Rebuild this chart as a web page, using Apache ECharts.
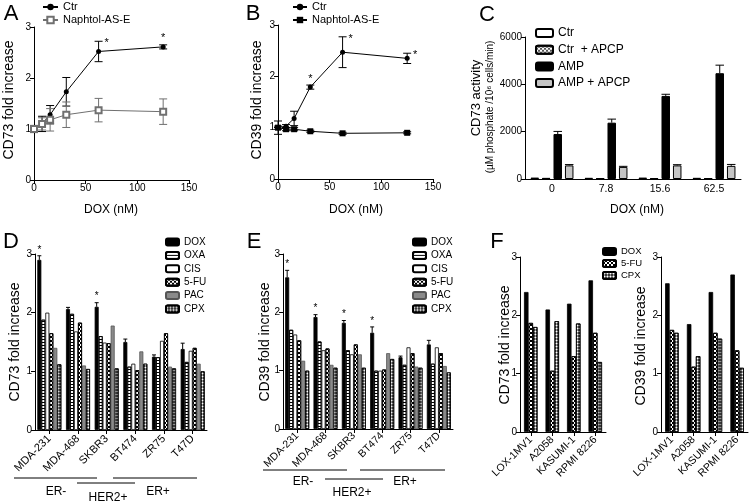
<!DOCTYPE html>
<html><head><meta charset="utf-8">
<script src="https://cdn.jsdelivr.net/npm/echarts@6/dist/echarts.min.js"></script>
<style>html,body{margin:0;padding:0;background:#fff}#c{width:749px;height:502px}</style>
</head><body><div id="c"></div>
<script>
// ---------- Panel A : CD73 vs DOX ----------
const doseA = [0, 7.8, 15.6, 31.25, 62.5, 125];
const aCtr = [1.0, 1.1, 1.28, 1.73, 2.52, 2.61];
const aCtrErr = [0.07, 0.15, 0.18, 0.28, 0.2, 0.04];
const aNap = [1.0, 1.1, 1.18, 1.28, 1.37, 1.34];
const aNapErr = [0.05, 0.12, 0.22, 0.25, 0.23, 0.25];
const aStars = ['', '', '', '', 'right', 'top'];
// ---------- Panel B : CD39 vs DOX ----------
const bCtr = [1.0, 1.03, 1.18, 1.79, 2.47, 2.35];
const bCtrErr = [0.13, 0.03, 0.14, 0.04, 0.3, 0.1];
const bNap = [1.0, 0.97, 0.97, 0.93, 0.89, 0.9];
const bNapErr = [0.03, 0.03, 0.03, 0.02, 0.02, 0.02];
const bStars = ['', '', '', 'top', 'right', 'right'];
// ---------- Panel C : CD73 activity ----------
const cCats = ['0', '7.8', '15.6', '62.5'];
const cCtr = [60, 50, 60, 50];
const cCtrApcp = [45, 35, 40, 35];
const cAmp = [1900, 2380, 3510, 4470];
const cAmpErr = [110, 150, 70, 340];
const cAmpApcp = [575, 510, 575, 555];
const cAmpApcpErr = [35, 25, 30, 60];
// ---------- Panels D / E : cell lines ----------
const deCats = ['MDA-231', 'MDA-468', 'SKBR3', 'BT474', 'ZR75', 'T47D'];
const drugs = ['DOX', 'OXA', 'CIS', '5-FU', 'PAC', 'CPX'];
const dDOX = [2.9, 2.06, 2.1, 1.5, 1.25, 1.38];
const dOXA = [1.88, 1.98, 1.6, 1.08, 1.24, 1.16];
const dCIS = [2.0, 1.68, 1.49, 1.13, 1.52, 1.35];
const d5FU = [1.65, 1.83, 1.48, 1.02, 1.65, 1.4];
const dPAC = [1.4, 1.1, 1.78, 1.34, 1.08, 1.13];
const dCPX = [1.12, 1.04, 1.05, 1.13, 1.05, 1.0];
const dDOXErr = [0.07, 0.03, 0.07, 0.05, 0.03, 0.1];
const dStars = [1, 0, 1, 0, 0, 0];
const eDOX = [2.6, 1.92, 1.82, 1.65, 1.23, 1.45];
const eOXA = [1.7, 1.5, 1.35, 1.0, 1.1, 1.12];
const eCIS = [1.62, 1.35, 1.28, 1.0, 1.4, 1.4];
const e5FU = [1.52, 1.38, 1.45, 1.02, 1.3, 1.3];
const ePAC = [1.17, 1.1, 1.28, 1.3, 1.07, 1.08];
const eCPX = [1.0, 1.05, 1.05, 1.2, 1.05, 0.97];
const eDOXErr = [0.12, 0.04, 0.04, 0.1, 0.02, 0.07];
const eStars = [1, 1, 1, 1, 0, 0];
// ---------- Panel F : other tumour lines ----------
const fCats = ['LOX-1MV1', 'A2058', 'KASUMI-1', 'RPMI 8226'];
const fDrugs = ['DOX', '5-FU', 'CPX'];
const f73DOX = [2.4, 2.1, 2.2, 2.6];
const f73FU = [1.87, 1.05, 1.3, 1.7];
const f73CPX = [1.8, 1.9, 1.86, 1.2];
const f39DOX = [2.55, 1.85, 2.4, 2.7];
const f39FU = [1.75, 1.12, 1.7, 1.4];
const f39CPX = [1.7, 1.3, 1.6, 1.1];

const FONT = "'Liberation Sans', Arial, Helvetica, sans-serif";
const chart = echarts.init(document.getElementById('c'));

const DEC_STRIPE = {symbol: 'rect', symbolSize: 1, dashArrayX: [1, 0], dashArrayY: [1, 2], color: '#000', rotation: 0};
const DEC_CHECK = {symbol: 'rect', symbolSize: 1, dashArrayX: [[2, 2], [0, 2, 2, 0]], dashArrayY: [2, 0], color: '#000', rotation: 0};
const DEC_CROSS = {symbol: 'diamond', symbolSize: 0.8, dashArrayX: [3, 0], dashArrayY: [3, 0], color: '#fff', rotation: 0};
const DEC_CHECK_G = {symbol: 'rect', symbolSize: 1, dashArrayX: [[2, 2], [0, 2, 2, 0]], dashArrayY: [2, 0], color: '#555', rotation: 0};

const drugStyle = {
  'DOX': {color: '#000', borderColor: '#000', borderWidth: 0.8},
  'OXA': {color: '#fff', borderColor: '#000', borderWidth: 0.8, decal: DEC_STRIPE},
  'CIS': {color: '#fff', borderColor: '#000', borderWidth: 0.8},
  '5-FU': {color: '#fff', borderColor: '#000', borderWidth: 0.8, decal: DEC_CHECK},
  'PAC': {color: '#8a8a8a', borderColor: '#555', borderWidth: 0.8},
  'CPX': {color: '#333', borderColor: '#000', borderWidth: 0.8, decal: DEC_CROSS}
};

function valAxis(gi, min, max, interval, extra) {
  return Object.assign({
    type: 'value', gridIndex: gi, min: min, max: max, interval: interval,
    axisLine: {show: true, lineStyle: {color: '#000', width: 1}},
    axisTick: {show: true, length: 4, lineStyle: {color: '#000'}},
    axisLabel: {color: '#000', fontSize: 10, fontFamily: FONT, margin: 3, formatter: v => String(v)},
    splitLine: {show: false}
  }, extra || {});
}
function catAxis(gi, cats, extra) {
  return Object.assign({
    type: 'category', gridIndex: gi, data: cats,
    axisLine: {show: true, lineStyle: {color: '#000', width: 1}},
    axisTick: {show: true, length: 4, alignWithLabel: true, lineStyle: {color: '#000'}},
    axisLabel: {color: '#000', fontSize: 11, fontFamily: FONT, rotate: 45, interval: 0, margin: 7},
    splitLine: {show: false}
  }, extra || {});
}

// error bars for xy line panels
function lineErr(gi, xs, ys, es, color, stars) {
  return {
    type: 'custom', xAxisIndex: gi, yAxisIndex: gi, z: 4, silent: true,
    data: xs.map((x, i) => [x, ys[i], es[i]]),
    renderItem(params, api) {
      const i = params.dataIndex;
      const x = api.value(0), y = api.value(1), e = api.value(2);
      const t = api.coord([x, y + e]), b = api.coord([x, y - e]);
      const cx = t[0], cap = 4;
      const st = {stroke: color, lineWidth: 1};
      const ch = [
        {type: 'line', shape: {x1: cx, y1: t[1], x2: cx, y2: b[1]}, style: st},
        {type: 'line', shape: {x1: cx - cap, y1: t[1], x2: cx + cap, y2: t[1]}, style: st},
        {type: 'line', shape: {x1: cx - cap, y1: b[1], x2: cx + cap, y2: b[1]}, style: st}
      ];
      if (stars && stars[i] === 'top') ch.push({type: 'text', x: cx, y: t[1] - 1, style: {text: '*', fontSize: 11, fontFamily: FONT, fill: '#000', align: 'center', verticalAlign: 'bottom'}});
      if (stars && stars[i] === 'right') ch.push({type: 'text', x: cx + 8, y: t[1] + 2, style: {text: '*', fontSize: 11, fontFamily: FONT, fill: '#000', align: 'center', verticalAlign: 'middle'}});
      return {type: 'group', children: ch};
    }
  };
}
// one-sided error bars on grouped bars
function barErr(gi, vals, errs, idx, n, bw, gap, stars) {
  return {
    type: 'custom', xAxisIndex: gi, yAxisIndex: gi, z: 4, silent: true,
    data: vals.map((v, i) => [i, v, errs[i]]),
    renderItem(params, api) {
      const i = params.dataIndex;
      const c = api.value(0), v = api.value(1), e = api.value(2);
      const off = (idx - (n - 1) / 2) * bw * (1 + gap);
      const p0 = api.coord([c, v]), p1 = api.coord([c, v + e]);
      const x = p0[0] + off, cap = Math.max(1.5, bw / 2);
      const st = {stroke: '#000', lineWidth: 1};
      const ch = [
        {type: 'line', shape: {x1: x, y1: p0[1], x2: x, y2: p1[1]}, style: st},
        {type: 'line', shape: {x1: x - cap, y1: p1[1], x2: x + cap, y2: p1[1]}, style: st}
      ];
      if (stars && stars[i]) ch.push({type: 'text', x: x, y: p1[1] - 1, style: {text: '*', fontSize: 10, fontFamily: FONT, fill: '#000', align: 'center', verticalAlign: 'bottom'}});
      return {type: 'group', children: ch};
    }
  };
}
function legend(left, top, names, o) {
  return Object.assign({
    left: left, top: top, orient: 'vertical', data: names, padding: 0,
    itemWidth: 13, itemHeight: 7, itemGap: 1.4, selectedMode: false,
    formatter: n => n.slice(2),
    textStyle: {fontSize: 10, lineHeight: 12, fontFamily: FONT, color: '#000'}
  }, o || {});
}
function txt(x, y, s, size, rot) {
  return {type: 'text', x: x, y: y, rotation: rot ? Math.PI / 2 : 0, silent: true,
    style: {text: s, fontSize: size, fontFamily: FONT, fill: '#000', align: 'center', verticalAlign: 'middle'}};
}
function hline(x1, x2, y) {
  return {type: 'line', silent: true, shape: {x1: x1, y1: y, x2: x2, y2: y}, style: {stroke: '#000', lineWidth: 1}};
}

const grids = [
  {left: 34, top: 27, width: 155, height: 153},   // A
  {left: 278, top: 25, width: 155, height: 154},  // B
  {left: 525, top: 37, width: 216, height: 142},  // C
  {left: 35, top: 254, width: 172, height: 176},  // D
  {left: 283, top: 254, width: 170, height: 175}, // E
  {left: 520, top: 257, width: 86, height: 175},  // F1
  {left: 661, top: 257, width: 87, height: 175}   // F2
];

const xAxes = [
  valAxis(0, 0, 150, 50),
  valAxis(1, 0, 150, 50),
  catAxis(2, cCats, {axisTick: {show: false}, axisLabel: {color: '#000', fontSize: 10.5, fontFamily: FONT, rotate: 0, margin: 5}}),
  catAxis(3, deCats),
  catAxis(4, deCats, {axisLabel: {color: '#000', fontSize: 10.5, fontFamily: FONT, rotate: 45, interval: 0, margin: 5}}),
  catAxis(5, fCats, {axisLabel: {color: '#000', fontSize: 10.5, fontFamily: FONT, rotate: 45, interval: 0, margin: 6}}),
  catAxis(6, fCats, {axisLabel: {color: '#000', fontSize: 10.5, fontFamily: FONT, rotate: 45, interval: 0, margin: 6}})
];
const yAxes = [
  valAxis(0, 0, 3, 1), valAxis(1, 0, 3, 1), valAxis(2, 0, 6000, 2000),
  valAxis(3, 0, 3, 1), valAxis(4, 0, 3, 1), valAxis(5, 0, 3, 1), valAxis(6, 0, 3, 1)
];

const series = [];
// A
series.push({type: 'line', name: 'A:Ctr', xAxisIndex: 0, yAxisIndex: 0, data: doseA.map((x, i) => [x, aCtr[i]]),
  symbol: 'circle', symbolSize: 5, itemStyle: {color: '#000'}, lineStyle: {color: '#000', width: 1}, z: 5});
series.push({type: 'line', name: 'A:Naphtol-AS-E', xAxisIndex: 0, yAxisIndex: 0, data: doseA.map((x, i) => [x, aNap[i]]),
  symbol: 'emptyRect', symbolSize: 6, itemStyle: {color: '#707070', borderWidth: 1.2}, lineStyle: {color: '#707070', width: 1}, z: 5});
series.push(lineErr(0, doseA, aCtr, aCtrErr, '#000', aStars));
series.push(lineErr(0, doseA, aNap, aNapErr, '#707070', null));
// B
series.push({type: 'line', name: 'B:Ctr', xAxisIndex: 1, yAxisIndex: 1, data: doseA.map((x, i) => [x, bCtr[i]]),
  symbol: 'circle', symbolSize: 5, itemStyle: {color: '#000'}, lineStyle: {color: '#000', width: 1}, z: 5});
series.push({type: 'line', name: 'B:Naphtol-AS-E', xAxisIndex: 1, yAxisIndex: 1, data: doseA.map((x, i) => [x, bNap[i]]),
  symbol: 'rect', symbolSize: 6, itemStyle: {color: '#000'}, lineStyle: {color: '#000', width: 1}, z: 5});
series.push(lineErr(1, doseA, bCtr, bCtrErr, '#000', bStars));
series.push(lineErr(1, doseA, bNap, bNapErr, '#000', null));
// C
const cBW = 8.5, cGap = 0.35;
const cSeries = [
  ['C:Ctr', cCtr, {color: '#fff', borderColor: '#000', borderWidth: 1}, null],
  ['C:Ctr  + APCP', cCtrApcp, {color: '#fff', borderColor: '#000', borderWidth: 1, decal: DEC_CHECK_G}, null],
  ['C:AMP', cAmp, {color: '#000', borderColor: '#000', borderWidth: 1}, cAmpErr],
  ['C:AMP + APCP', cAmpApcp, {color: '#c4c4c4', borderColor: '#000', borderWidth: 1}, cAmpApcpErr]
];
cSeries.forEach((s, k) => {
  series.push({type: 'bar', name: s[0], xAxisIndex: 2, yAxisIndex: 2, data: s[1], barWidth: cBW, barGap: (cGap * 100) + '%', itemStyle: s[2]});
  if (s[3]) series.push(barErr(2, s[1], s[3], k, 4, cBW, cGap, null));
});
// D & E
const dVals = [dDOX, dOXA, dCIS, d5FU, dPAC, dCPX];
const eVals = [eDOX, eOXA, eCIS, e5FU, ePAC, eCPX];
const deBW = 4;
drugs.forEach((d, k) => {
  series.push({type: 'bar', name: 'D:' + d, xAxisIndex: 3, yAxisIndex: 3, data: dVals[k], barWidth: deBW, barGap: '0%', itemStyle: drugStyle[d]});
  series.push({type: 'bar', name: 'E:' + d, xAxisIndex: 4, yAxisIndex: 4, data: eVals[k], barWidth: deBW, barGap: '0%', itemStyle: drugStyle[d]});
});
series.push(barErr(3, dDOX, dDOXErr, 0, 6, deBW, 0, dStars));
series.push(barErr(4, eDOX, eDOXErr, 0, 6, deBW, 0, eStars));
// F
const f73 = [f73DOX, f73FU, f73CPX], f39 = [f39DOX, f39FU, f39CPX];
fDrugs.forEach((d, k) => {
  series.push({type: 'bar', name: 'F:' + d, xAxisIndex: 5, yAxisIndex: 5, data: f73[k], barWidth: 4.5, barGap: '0%', itemStyle: drugStyle[d]});
  series.push({type: 'bar', name: 'G:' + d, xAxisIndex: 6, yAxisIndex: 6, data: f39[k], barWidth: 4.5, barGap: '0%', itemStyle: drugStyle[d]});
});

const graphics = [
  txt(11, 14, 'A', 22), txt(253, 14, 'B', 22), txt(487, 15, 'C', 22),
  txt(11, 242, 'D', 22), txt(254, 242, 'E', 22), txt(497, 242, 'F', 22),
  txt(9, 100, 'CD73 fold increase', 14, true),
  txt(257, 100, 'CD39 fold increase', 14, true),
  txt(476, 98, 'CD73 activity', 13, true),
  txt(490, 107, '(µM phosphate /10⁶ cells/min)', 10, true),
  txt(111, 210, 'DOX (nM)', 12), txt(356, 210, 'DOX (nM)', 12), txt(637, 210, 'DOX (nM)', 12),
  txt(15, 342, 'CD73 fold increase', 14, true),
  txt(265, 342, 'CD39 fold increase', 14, true),
  txt(505, 345, 'CD73 fold increase', 14, true),
  txt(641, 346, 'CD39 fold increase', 14, true),
  // group brackets D
  hline(14, 97, 478), hline(77, 135, 483), hline(113, 197, 478),
  txt(56, 492, 'ER-', 12), txt(108, 498, 'HER2+', 12), txt(158, 492, 'ER+', 12),
  // group brackets E
  hline(263, 347, 470), hline(325, 383, 479), hline(360, 445, 470),
  txt(303, 482, 'ER-', 12), txt(352, 493, 'HER2+', 12), txt(405, 482, 'ER+', 12)
];

chart.setOption({
  animation: false,
  backgroundColor: '#fff',
  textStyle: {fontFamily: FONT},
  grid: grids,
  xAxis: xAxes,
  yAxis: yAxes,
  legend: [
    legend(42, 1, ['A:Ctr', 'A:Naphtol-AS-E'], {itemWidth: 15, itemHeight: 8, itemGap: 1, textStyle: {fontSize: 11, lineHeight: 12, fontFamily: FONT, color: '#000'}}),
    legend(292, 1, ['B:Ctr', 'B:Naphtol-AS-E'], {itemWidth: 14, itemHeight: 8, itemGap: 1, textStyle: {fontSize: 11, lineHeight: 12, fontFamily: FONT, color: '#000'}}),
    legend(535, 26, cSeries.map(s => s[0]), {itemWidth: 17, itemHeight: 8, itemGap: 2.7, textStyle: {fontSize: 12, lineHeight: 14, fontFamily: FONT, color: '#000'}}),
    legend(165, 236, drugs.map(d => 'D:' + d)),
    legend(412, 236, drugs.map(d => 'E:' + d)),
    legend(602, 246, fDrugs.map(d => 'F:' + d), {itemGap: 1, textStyle: {fontSize: 9.5, lineHeight: 11, fontFamily: FONT, color: '#000'}})
  ],
  series: series,
  graphic: graphics
});
</script>
</body></html>
